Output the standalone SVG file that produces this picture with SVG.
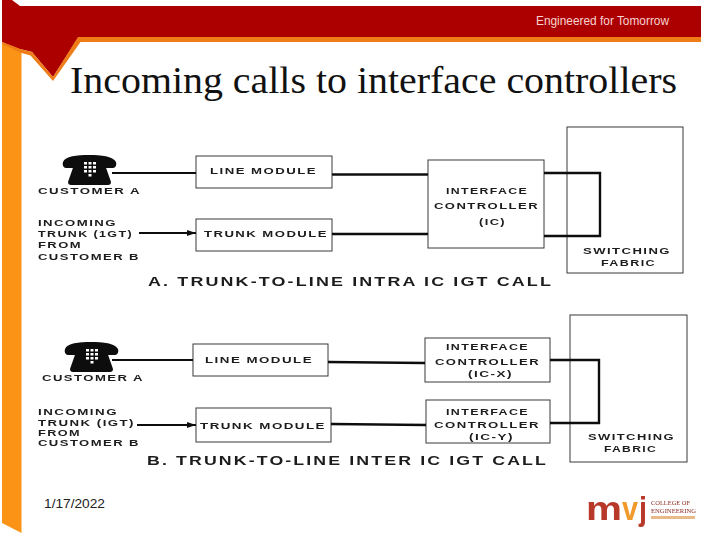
<svg xmlns="http://www.w3.org/2000/svg" width="720" height="540" viewBox="0 0 720 540">
<style>
.box{fill:#fff;stroke:#3a3a3a;stroke-width:1}
.lbl{font-family:"Liberation Sans",Arial,sans-serif;font-weight:700;font-size:9px;letter-spacing:1px;fill:#1c1c1c}
.cap{font-size:12.5px;letter-spacing:1.5px}
.wire{fill:none;stroke:#111;stroke-width:2.4}
.thin{stroke-width:1.8}
.brand{font-family:"Liberation Sans",Arial,sans-serif}
</style>
<defs>
<filter id="soft" x="-2%" y="-2%" width="104%" height="104%"><feGaussianBlur stdDeviation="0.45"/></filter>
<marker id="arrow" markerUnits="userSpaceOnUse" markerWidth="10" markerHeight="8" refX="9" refY="4" orient="auto"><path d="M0 1L9 4L0 7z" fill="#111"/></marker>
<g id="phone">
<path d="M0 7C2 1 14 0 26 0S50 1 53 7C54 11 52 13 49 13H43C41 13 40 11 40 8H13C13 11 12 13 10 13H4C1 13-1 11 0 7Z" fill="#0c0c0c"/>
<path d="M12 7H41L48 27C48 29 47 30 45 30H8C6 30 5 29 5 27Z" fill="#0c0c0c"/>
<path d="M21 7h3v2.500h-3zM25.500 7h3v2.500h-3zM30 7h3v2.500h-3zM21 11h3v2.500h-3zM25.500 11h3v2.500h-3zM30 11h3v2.500h-3zM21 15h3v2.500h-3zM25.500 15h3v2.500h-3zM30 15h3v2.500h-3zM25.500 19h3v2.500h-3z" fill="#fff"/>
</g>
</defs>

<g id="slide-frame">
<path d="M2 43H21.500V533L2 523Z" fill="#fb9317"/>
<path d="M2 0H12L20 6H701V38H78L53 77L32 52L20 49L2 42Z" fill="#ac0000"/>
<path d="M78 37H701V42H80.500L53 81L30.500 55.500L20 52.500L2 44V42L20 49L32 52L53 77Z" fill="#ee7d18"/>
<text class="brand" x="536" y="25" font-size="12.500" fill="#f7d4d2" textLength="133" lengthAdjust="spacingAndGlyphs">Engineered for Tomorrow</text>
<text id="title" x="70" y="93" font-family="'Liberation Serif','Times New Roman',serif" font-size="37" fill="#111" textLength="607" lengthAdjust="spacingAndGlyphs">Incoming calls to interface controllers</text>
<text class="brand" x="44" y="508" font-size="13.500" fill="#222" textLength="61" lengthAdjust="spacingAndGlyphs">1/17/2022</text>
</g>

<g filter="url(#soft)">
<g id="customer-a-1"><use href="#phone" x="63" y="155"/><text class="lbl" x="38" y="194" textLength="103" lengthAdjust="spacingAndGlyphs">CUSTOMER A</text></g>
<g id="trunk-label-1">
<text class="lbl" x="38" y="226" textLength="79" lengthAdjust="spacingAndGlyphs">INCOMING</text>
<text class="lbl" x="38" y="237" textLength="95" lengthAdjust="spacingAndGlyphs">TRUNK (1GT)</text>
<text class="lbl" x="38" y="248" textLength="44" lengthAdjust="spacingAndGlyphs">FROM</text>
<text class="lbl" x="38" y="260" textLength="102" lengthAdjust="spacingAndGlyphs">CUSTOMER B</text>
</g>
<g id="line-module-1"><rect class="box" x="196" y="156" width="136" height="32"/><text class="lbl" x="210" y="174" textLength="107" lengthAdjust="spacingAndGlyphs">LINE MODULE</text></g>
<g id="trunk-module-1"><rect class="box" x="196" y="219" width="136" height="32"/><text class="lbl" x="204" y="237" textLength="124" lengthAdjust="spacingAndGlyphs">TRUNK MODULE</text></g>
<g id="ic-1"><rect class="box" x="428" y="160" width="116" height="88"/>
<text class="lbl" x="446" y="194" textLength="82" lengthAdjust="spacingAndGlyphs">INTERFACE</text>
<text class="lbl" x="434" y="209" textLength="105" lengthAdjust="spacingAndGlyphs">CONTROLLER</text>
<text class="lbl" x="479" y="225" textLength="27" lengthAdjust="spacingAndGlyphs">(IC)</text></g>
<g id="fabric-1"><rect class="box" x="567" y="127" width="116" height="146"/>
<text class="lbl" x="583" y="254" textLength="88" lengthAdjust="spacingAndGlyphs">SWITCHING</text>
<text class="lbl" x="601" y="266" textLength="55" lengthAdjust="spacingAndGlyphs">FABRIC</text></g>
<text class="lbl cap" x="148" y="286" textLength="405" lengthAdjust="spacingAndGlyphs">A. TRUNK-TO-LINE INTRA IC IGT CALL</text>

<g id="customer-a-2"><use href="#phone" x="65" y="342"/><text class="lbl" x="42" y="381" textLength="102" lengthAdjust="spacingAndGlyphs">CUSTOMER A</text></g>
<g id="trunk-label-2">
<text class="lbl" x="38" y="415" textLength="80" lengthAdjust="spacingAndGlyphs">INCOMING</text>
<text class="lbl" x="38" y="426" textLength="97" lengthAdjust="spacingAndGlyphs">TRUNK (IGT)</text>
<text class="lbl" x="38" y="436" textLength="43" lengthAdjust="spacingAndGlyphs">FROM</text>
<text class="lbl" x="38" y="446" textLength="102" lengthAdjust="spacingAndGlyphs">CUSTOMER B</text>
</g>
<g id="line-module-2"><rect class="box" x="193" y="344" width="135" height="32"/><text class="lbl" x="205" y="363" textLength="108" lengthAdjust="spacingAndGlyphs">LINE MODULE</text></g>
<g id="trunk-module-2"><rect class="box" x="196" y="408" width="135" height="34"/><text class="lbl" x="200" y="429" textLength="126" lengthAdjust="spacingAndGlyphs">TRUNK MODULE</text></g>
<g id="ic-x"><rect class="box" x="425" y="338" width="125" height="44"/>
<text class="lbl" x="446" y="350" textLength="83" lengthAdjust="spacingAndGlyphs">INTERFACE</text>
<text class="lbl" x="435" y="365" textLength="105" lengthAdjust="spacingAndGlyphs">CONTROLLER</text>
<text class="lbl" x="468" y="377" textLength="45" lengthAdjust="spacingAndGlyphs">(IC-X)</text></g>
<g id="ic-y"><rect class="box" x="426" y="400" width="124" height="43"/>
<text class="lbl" x="446" y="415" textLength="83" lengthAdjust="spacingAndGlyphs">INTERFACE</text>
<text class="lbl" x="434" y="428" textLength="106" lengthAdjust="spacingAndGlyphs">CONTROLLER</text>
<text class="lbl" x="469" y="440" textLength="45" lengthAdjust="spacingAndGlyphs">(IC-Y)</text></g>
<g id="fabric-2"><rect class="box" x="570" y="315" width="117" height="147"/>
<text class="lbl" x="588" y="440" textLength="87" lengthAdjust="spacingAndGlyphs">SWITCHING</text>
<text class="lbl" x="604" y="452" textLength="53" lengthAdjust="spacingAndGlyphs">FABRIC</text></g>
<text class="lbl cap" x="147" y="465" textLength="401" lengthAdjust="spacingAndGlyphs">B. TRUNK-TO-LINE INTER IC IGT CALL</text>

<g id="connectors">
<path class="wire thin" d="M112 173H196"/>
<path class="wire" d="M332 174.500H428"/>
<path class="wire thin" d="M139 233H196" marker-end="url(#arrow)"/>
<path class="wire" d="M332 234H428"/>
<path class="wire" d="M544 173H600V236H544"/>
<path class="wire thin" d="M112 360H193"/>
<path class="wire" d="M328 362L425 363"/>
<path class="wire thin" d="M137 425H196" marker-end="url(#arrow)"/>
<path class="wire" d="M331 424L426 425"/>
<path class="wire" d="M550 360H599V423H550"/>
</g>
</g>

<g id="logo" filter="url(#soft)">
<text x="586" y="520" font-family="'Liberation Sans',Arial,sans-serif" font-weight="700" font-size="33" fill="#b8392a" textLength="36" lengthAdjust="spacingAndGlyphs">m</text>
<text x="622" y="520" font-family="'Liberation Sans',Arial,sans-serif" font-weight="700" font-size="33" fill="#ef9a2a" textLength="16" lengthAdjust="spacingAndGlyphs">v</text>
<text x="639" y="520" font-family="'Liberation Sans',Arial,sans-serif" font-weight="700" font-size="33" fill="#b8392a" textLength="8" lengthAdjust="spacingAndGlyphs">j</text>
<text x="651" y="505" font-family="'Liberation Serif',serif" font-size="7" fill="#8a2a20" textLength="39" lengthAdjust="spacingAndGlyphs">COLLEGE OF</text>
<text x="651" y="513" font-family="'Liberation Serif',serif" font-size="7" fill="#8a2a20" textLength="45" lengthAdjust="spacingAndGlyphs">ENGINEERING</text>
<rect x="651" y="516" width="44" height="3" fill="#e3a96a" opacity="0.8"/>
</g>
</svg>
